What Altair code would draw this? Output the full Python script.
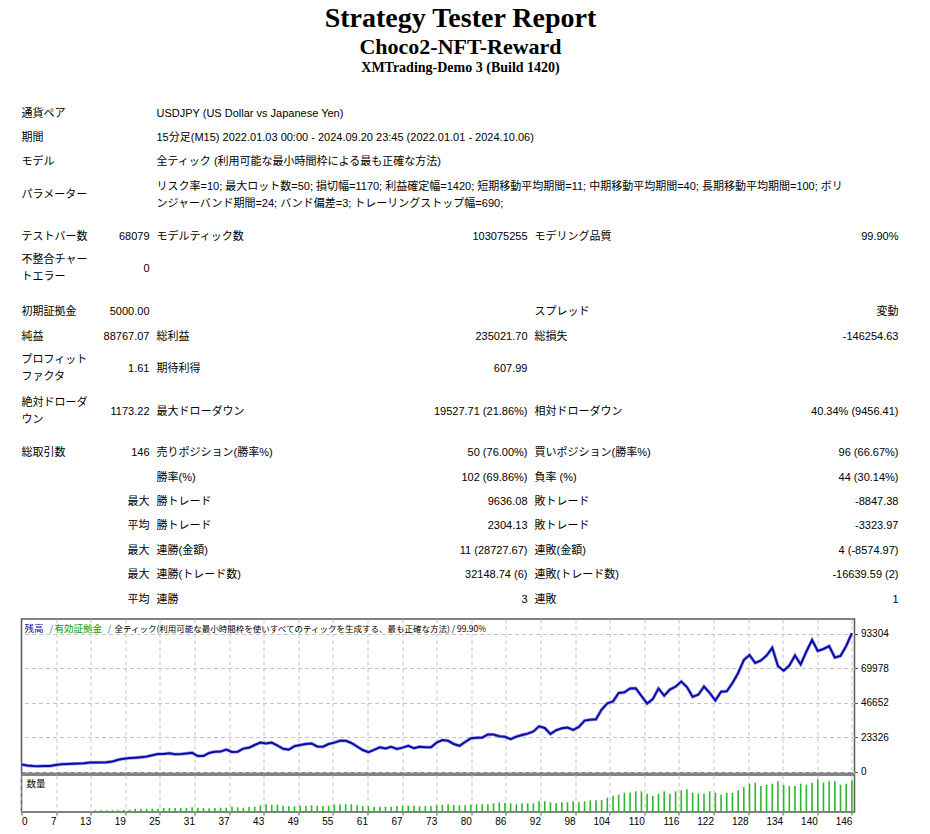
import altair as alt
import pandas as pd

# ---------------- data ----------------
TITLE_LINES = ["Strategy Tester Report", "Choco2-NFT-Reward", "XMTrading-Demo 3 (Build 1420)"]

INFO_LABELS = ["通貨ペア", "期間", "モデル", "パラメーター"]
INFO_VALUES = [
    "USDJPY (US Dollar vs Japanese Yen)",
    "15分足(M15) 2022.01.03 00:00 - 2024.09.20 23:45 (2022.01.01 - 2024.10.06)",
    "全ティック (利用可能な最小時間枠による最も正確な方法)",
    ["リスク率=10; 最大ロット数=50; 損切幅=1170; 利益確定幅=1420; 短期移動平均期間=11; 中期移動平均期間=40; 長期移動平均期間=100; ボリ",
     "ンジャーバンド期間=24; バンド偏差=3; トレーリングストップ幅=690;"],
]

STAT_ROWS = [
    ("テストバー数", "68079", "モデルティック数", "103075255", "モデリング品質", "99.90%"),
    (["不整合チャー", "トエラー"], "0", "", "", "", ""),
    ("初期証拠金", "5000.00", "", "", "スプレッド", "変動"),
    ("純益", "88767.07", "総利益", "235021.70", "総損失", "-146254.63"),
    (["プロフィット", "ファクタ"], "1.61", "期待利得", "607.99", "", ""),
    (["絶対ドローダ", "ウン"], "1173.22", "最大ドローダウン", "19527.71 (21.86%)", "相対ドローダウン", "40.34% (9456.41)"),
    ("総取引数", "146", "売りポジション(勝率%)", "50 (76.00%)", "買いポジション(勝率%)", "96 (66.67%)"),
    ("", "", "勝率(%)", "102 (69.86%)", "負率 (%)", "44 (30.14%)"),
    ("", "最大", "勝トレード", "9636.08", "敗トレード", "-8847.38"),
    ("", "平均", "勝トレード", "2304.13", "敗トレード", "-3323.97"),
    ("", "最大", "連勝(金額)", "11 (28727.67)", "連敗(金額)", "4 (-8574.97)"),
    ("", "最大", "連勝(トレード数)", "32148.74 (6)", "連敗(トレード数)", "-16639.59 (2)"),
    ("", "平均", "連勝", "3", "連敗", "1"),
]

BALANCE = [
    5000, 4300, 3900, 3827, 3900, 3950, 4600, 5140, 5270, 5410,
    5540, 5750, 6220, 6290, 6360, 6420, 6960, 8180, 8860, 9260,
    9530, 9870, 10280, 11220, 12030, 12100, 12510, 11830, 11970, 12370,
    12850, 10680, 10750, 12780, 13590, 13650, 15080, 13390, 13590, 15690,
    16290, 18120, 19810, 19130, 19810, 17780, 15550, 15010, 17310, 18120,
    18800, 19200, 17110, 16970, 18800, 19740, 21030, 21000, 19470, 17110,
    14740, 13250, 14870, 16560, 15750, 16970, 15480, 16360, 17580, 15960,
    16970, 16560, 16600, 19810, 21500, 20960, 18800, 17580, 20150, 22650,
    23060, 23100, 25220, 25150, 24070, 23660, 22110, 23730, 24880, 25830,
    27250, 30760, 29610, 25560, 28130, 29410, 29950, 28260, 30290, 34620,
    35160, 35500, 42050, 46250, 47530, 53280, 53750, 56320, 56450, 51250,
    46110, 49220, 56320, 51450, 55640, 57540, 61050, 57330, 50710, 52130,
    57670, 53410, 48210, 54160, 54490, 60040, 66800, 75590, 78970, 73560,
    75250, 78630, 83840, 71530, 68350, 71870, 78630, 72550, 81340, 89110,
    81670, 83030, 85050, 77280, 78290, 85050, 93767,
]

VOLUME = [
    0.3, 0.3, 0.3, 0.3, 0.3, 0.3, 0.3, 0.3, 0.3, 0.3, 0.3, 0.3,
    1.7, 1.7, 1.7, 1.7, 1.7, 2.0, 2.3,
    3.3, 3.3, 3.3, 3.3, 3.3, 4.0, 4.0, 4.0, 4.0, 4.0,
    4.7, 4.3, 4.0, 3.7, 4.0, 4.3, 4.3, 5.3, 4.7, 4.3,
    5.0, 5.3, 6.7, 7.7, 7.3, 7.3, 6.3, 5.7, 5.7, 6.3,
    6.3, 6.7, 6.3, 6.0, 6.3, 7.3, 7.7, 7.7, 7.7, 6.7,
    6.0, 5.7, 5.0, 5.3, 5.3, 5.3, 6.0, 6.3, 6.3, 6.3,
    5.7, 6.0, 5.7, 6.7, 7.0, 7.7, 7.0, 6.7,
    6.7, 7.3, 7.7, 7.7, 7.7, 8.7, 9.7, 9.0, 8.7, 7.7,
    8.7, 8.7, 8.7, 10.7, 10.7, 9.7, 8.7, 9.7, 9.7, 10.7,
    9.7, 10.7, 11.7, 11.7, 12.0, 14.3, 16.3, 17.3, 19.3, 19.3,
    20.7, 20.7, 18.3, 16.3, 18.3, 20.7, 18.3, 20.7, 21.7, 22.7,
    19.3, 18.3, 18.3, 20.7, 19.3, 17.3, 19.3, 19.3, 21.7, 25.0,
    28.3, 29.3, 26.0, 27.3, 28.3, 30.7, 27.0, 26.0, 26.0, 28.3,
    27.3, 29.3, 32.7, 29.3, 30.7, 30.7, 27.3, 28.3, 31.7,
]

Y_TICKS = [0, 23326, 46652, 69978, 93304]
X_TICK_LABELS = ["0", "7", "13", "19", "25", "31", "37", "43", "49", "55", "61", "67", "73",
                 "80", "86", "92", "98", "104", "110", "116", "122", "128", "134", "140", "146"]

LEGEND_BALANCE = "残高"
LEGEND_EQUITY = "有効証拠金"
LEGEND_MODEL = "全ティック(利用可能な最小時間枠を使いすべてのティックを生成する、最も正確な方法) / 99.90%"
VOLUME_LABEL = "数量"

# ---------------- layout / style ----------------
FONT_UI = "Liberation Sans, Noto Sans CJK JP"
FONT_JP = "Noto Sans CJK JP"
A_W, A_H = 880, 609
PLOT_W, BAL_H, VOL_H = 833, 154, 37
TITLE_X = 439
TITLE_Y = [10.6, 38.5, 59.5]
TITLE_SIZE = [28, 22, 14]
INFO_Y = [106, 130, 154, 187]
STAT_Y = [229, 260.5, 304, 329, 360.5, 403.5, 445, 470, 494, 518, 543, 567, 592]
COL_X = [0, 128, 135, 506, 513, 877]
COL_ALIGN = ["left", "right", "left", "right", "left", "right"]
LINE_GAP = 17
GRID = dict(grid=True, gridDash=[4, 3], gridColor="#c4c4c4", gridWidth=1, tickCount=200)
FRAME = alt.ViewBackground(stroke="#5a5a5a", strokeWidth=1.5, fill="white")
NO_FRAME = alt.ViewBackground(stroke="transparent", strokeWidth=0, fill="white")

# ---------------- report text panel ----------------
cells = []


def add_cell(col, y_center, content):
    lines = content if isinstance(content, list) else [content]
    n = len(lines)
    for j, line in enumerate(lines):
        if line == "":
            continue
        cells.append({"x": COL_X[col], "y": y_center + (j - (n - 1) / 2) * LINE_GAP,
                      "text": line, "align": COL_ALIGN[col]})


for lab, val, y in zip(INFO_LABELS, INFO_VALUES, INFO_Y):
    add_cell(0, y, lab)
    add_cell(2, y, val)
for row, y in zip(STAT_ROWS, STAT_Y):
    for c, content in enumerate(row):
        add_cell(c, y, content)

cells_df = pd.DataFrame(cells)
left_df = cells_df[cells_df["align"] == "left"]
right_df = cells_df[cells_df["align"] == "right"]
title_df = pd.DataFrame({"x": [TITLE_X] * 3, "y": TITLE_Y, "text": TITLE_LINES, "size": TITLE_SIZE})

xa = alt.X("x:Q", scale=alt.Scale(domain=[0, A_W], nice=False, zero=False), axis=None)
ya = alt.Y("y:Q", scale=alt.Scale(domain=[0, A_H], nice=False, zero=False, reverse=True), axis=None)

title_layer = alt.Chart(title_df).mark_text(
    font="Liberation Serif", fontWeight="bold", align="center", baseline="middle", color="#000000",
    clip=True
).encode(x=xa, y=ya, text="text:N", size=alt.Size("size:Q", scale=None, legend=None))

left_layer = alt.Chart(left_df).mark_text(
    font=FONT_UI, fontSize=11, align="left", baseline="middle", color="#000000"
).encode(x=xa, y=ya, text="text:N")

right_layer = alt.Chart(right_df).mark_text(
    font=FONT_UI, fontSize=11, align="right", baseline="middle", color="#000000"
).encode(x=xa, y=ya, text="text:N")

panel_a = alt.layer(title_layer, left_layer, right_layer).properties(width=A_W, height=A_H, view=NO_FRAME)

# ---------------- shared x ----------------
N_TRADES = len(BALANCE) - 1
tick_pos = [N_TRADES * k / 24 for k in range(25)]
x_scale = alt.Scale(domain=[0, 146.46], nice=False, zero=False)
label_expr = "[" + ",".join("'%s'" % t for t in X_TICK_LABELS) + "][round(datum.value * 24 / %d)]" % N_TRADES


def text_label(txt, x, y, color, size):
    return alt.Chart(pd.DataFrame({"t": [txt]})).mark_text(
        align="left", baseline="middle", font=FONT_JP, fontSize=size, color=color
    ).encode(x=alt.value(x), y=alt.value(y), text="t:N")


# ---------------- balance panel ----------------
bal_df = pd.DataFrame({"trade": list(range(len(BALANCE))), "balance": BALANCE})
y_scale = alt.Scale(domain=[-811, 103310], nice=False, zero=False)

bx = alt.X("trade:Q", scale=x_scale,
           axis=alt.Axis(values=tick_pos[1:], labels=False, ticks=False, domain=False, title=None, **GRID))
by = alt.Y("balance:Q", scale=y_scale,
           axis=alt.Axis(orient="right", values=Y_TICKS, format="d", domain=False, tickSize=3,
                         tickColor="#555555", labelFont="Liberation Sans", labelFontSize=10,
                         labelColor="#000000", labelPadding=3, labelOverlap=False, title=None, **GRID))

halo = alt.Chart(bal_df).mark_line(color="#a4a4e8", strokeWidth=3.4).encode(x=bx, y=by)
line = alt.Chart(bal_df).mark_line(color="#0c0ca6", strokeWidth=2).encode(x=bx, y=by)

panel_b = alt.layer(
    halo, line,
    text_label(LEGEND_BALANCE, 3, 10, "#0a0aa0", 9.5),
    text_label("/", 28, 10, "#5070a0", 9.5),
    text_label(LEGEND_EQUITY, 33, 10, "#00a000", 9.5),
    text_label("/", 86, 10, "#5070a0", 9.5),
    text_label(LEGEND_MODEL, 93, 10, "#000000", 8.5),
).properties(width=PLOT_W, height=BAL_H, view=FRAME)

# ---------------- volume panel ----------------
vol_df = pd.DataFrame({"trade": list(range(1, len(VOLUME) + 1)), "volume": VOLUME})
vx = alt.X("trade:Q", scale=x_scale,
           axis=alt.Axis(values=tick_pos, labelExpr=label_expr, domain=False, tickSize=3,
                         tickColor="#555555", labelFont="Liberation Sans", labelFontSize=10,
                         labelColor="#000000", labelPadding=1, labelFlush=False, labelOverlap=False,
                         labelAlign={"condition": {"test": "datum.value < 1", "value": "left"}, "value": "right"},
                         title=None, **GRID))
bars = alt.Chart(vol_df).mark_rule(color="#2cb82c", strokeWidth=1.6).encode(
    x=vx,
    y=alt.Y("volume:Q", scale=alt.Scale(domain=[0, VOL_H], nice=False), axis=None),
    y2=alt.datum(0),
)
panel_c = alt.layer(
    bars,
    text_label(VOLUME_LABEL, 5, 9, "#000000", 9.5),
).properties(width=PLOT_W, height=VOL_H, view=FRAME)

chart = alt.vconcat(panel_a, panel_b, panel_c, spacing=2, bounds="flush").properties(
    padding={"left": 5.5, "top": 0, "right": 0, "bottom": 0}
).configure_view(stroke=None).configure(background="white")

chart.save("out.html", embed_options={"renderer": "svg", "actions": False})
